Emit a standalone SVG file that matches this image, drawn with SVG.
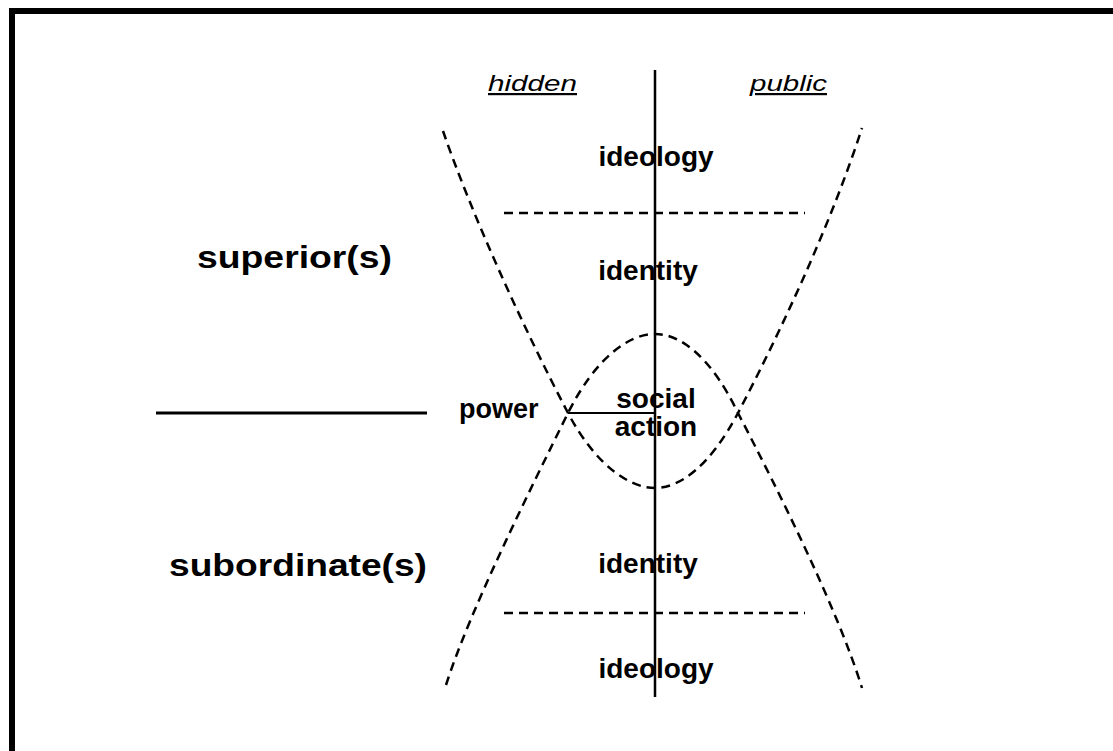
<svg xmlns="http://www.w3.org/2000/svg" width="1113" height="751" viewBox="0 0 1113 751">
  <style>
    .bold { font-family: "Liberation Sans", Arial, sans-serif; font-weight: bold; fill: #000; }
    .ital { font-family: "Liberation Sans", Arial, sans-serif; font-style: italic; font-size: 22px; text-decoration: underline; fill: #000; }
    .solid { stroke: #000; fill: none; }
    .dash { stroke: #000; fill: none; stroke-width: 2.5; stroke-dasharray: 9 6; }
  </style>
  <rect x="0" y="0" width="1113" height="751" fill="#fff"/>
  <path d="M12,751 V11 H1113" class="solid" stroke-width="6"/>

  <g id="connectors">
    <line x1="655" y1="70" x2="655" y2="697" class="solid" stroke-width="2.5"/>
    <line x1="156" y1="413" x2="427" y2="413" class="solid" stroke-width="3"/>
    <line x1="568" y1="413" x2="655" y2="413" class="solid" stroke-width="2.2"/>
    <line x1="504" y1="213" x2="805" y2="213" class="dash" stroke-dasharray="10 7"/>
    <line x1="504" y1="613" x2="805" y2="613" class="dash" stroke-dasharray="10 7"/>
    <path d="M443,131 C472,215 522,325 568,413 C596,466 630,488 655,488 C680,488 710,466 738,413 C784,325 833,218 862,128" class="dash"/>
    <path d="M446,685 C470,610 530,490 568,413 C595,359 628,334 655,334 C682,334 712,359 738,413 C778,490 838,610 862,688" class="dash"/>
  </g>

  <g id="hidden"><text x="488" y="91" class="ital" textLength="89" lengthAdjust="spacingAndGlyphs">hidden</text></g>
  <g id="public"><text x="750" y="91" class="ital" textLength="77" lengthAdjust="spacingAndGlyphs">public</text></g>
  <g id="ideology-top"><text x="656" y="166" class="bold" font-size="28" text-anchor="middle">ideology</text></g>
  <g id="identity-top"><text x="648" y="280" class="bold" font-size="28" text-anchor="middle">identity</text></g>
  <g id="superior"><text x="197" y="268" class="bold" font-size="31" textLength="195" lengthAdjust="spacingAndGlyphs">superior(s)</text></g>
  <g id="power"><text x="459" y="418" class="bold" font-size="27">power</text></g>
  <g id="social-action">
    <text x="656" y="408" class="bold" font-size="28" text-anchor="middle">social</text>
    <text x="656" y="436" class="bold" font-size="28" text-anchor="middle">action</text>
  </g>
  <g id="subordinate"><text x="169" y="576" class="bold" font-size="31" textLength="258" lengthAdjust="spacingAndGlyphs">subordinate(s)</text></g>
  <g id="identity-bottom"><text x="648" y="573" class="bold" font-size="28" text-anchor="middle">identity</text></g>
  <g id="ideology-bottom"><text x="656" y="678" class="bold" font-size="28" text-anchor="middle">ideology</text></g>
</svg>
